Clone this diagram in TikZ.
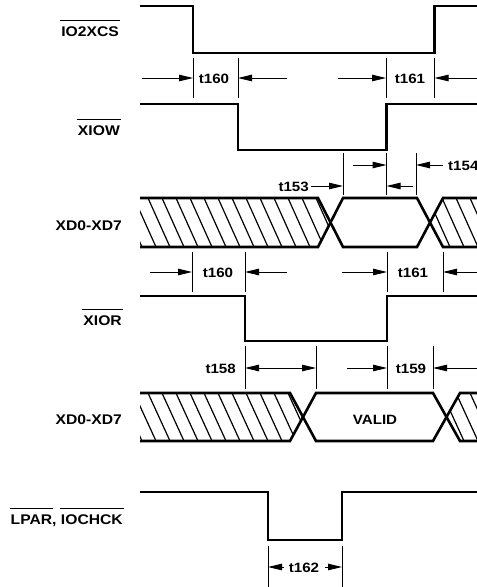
\documentclass[tikz,border=0pt]{standalone}
\usepackage{fontspec}
\setmainfont{Liberation Sans}[FakeStretch=1.12]
\usetikzlibrary{arrows.meta}
\newcommand\ovl[1]{\setbox0\hbox{#1}\rlap{\kern-1pt\rule[14.8pt]{\dimexpr\wd0+2pt\relax}{1.2pt}}\box0}
\begin{document}
\begin{tikzpicture}[x=1pt,y=-1pt,
  sig/.style={line width=2.6pt, line join=miter},
  dim/.style={line width=1pt},
  arr/.style={dim,-{Triangle[length=14pt,width=6.5pt]}},
  dblarr/.style={dim,{Triangle[length=14pt,width=6.5pt]}-{Triangle[length=14pt,width=6.5pt]}},
  hatch/.style={line width=1.2pt},
  lab/.style={font=\fontsize{14}{16}\selectfont\bfseries, inner sep=0pt, anchor=base east},
  tlab/.style={font=\fontsize{13.5}{16}\selectfont\bfseries, inner sep=0pt, anchor=base}]
\useasboundingbox (0,0) rectangle (477,587);

% ---------- labels ----------
\node[lab] (l1) at (119,36) {\ovl{IO2XCS}};
\node[lab] (l2) at (120,135) {\ovl{XIOW}};
\node[lab] (l3) at (122,230) {XD0-XD7};
\node[lab] (l4) at (122,325) {\ovl{XIOR}};
\node[lab] (l5) at (122,424) {XD0-XD7};
\node[lab] (l6) at (123,524) {\ovl{LPAR}, \ovl{IOCHCK}};

% ---------- signals ----------
\draw[sig] (140,6) -- (193,6) -- (193,53) -- (434.5,53) -- (434.5,6) -- (482,6);
\draw[sig] (140,104) -- (238,104) -- (238,150) -- (386.5,150) -- (386.5,104) -- (482,104);
\draw[sig] (140,296) -- (245,296) -- (245,341) -- (387,341) -- (387,296) -- (482,296);
\draw[sig] (140,492) -- (268,492) -- (268,540) -- (342,540) -- (342,492) -- (482,492);

% ---------- bus 1 ----------
\begin{scope}
\clip (140,198) -- (318,198) -- (330.5,222.5) -- (318,247) -- (140,247) -- cycle;
\foreach \i in {-3,...,14} \draw[hatch] ({134+14*\i},198) -- ++(22,49);
\end{scope}
\begin{scope}
\clip (443,198) -- (482,198) -- (482,247) -- (443,247) -- (430,222.5) -- cycle;
\foreach \i in {18,...,26} \draw[hatch] ({134+14*\i},198) -- ++(22,49);
\end{scope}
\draw[sig] (140,198) -- (318,198) -- (343,247) -- (417,247) -- (443,198) -- (482,198);
\draw[sig] (140,247) -- (318,247) -- (343,198) -- (417,198) -- (443,247) -- (482,247);

% ---------- bus 2 ----------
\begin{scope}
\clip (140,393) -- (290,393) -- (303,417) -- (290,441) -- (140,441) -- cycle;
\foreach \i in {-3,...,12} \draw[hatch] ({134+14*\i},393) -- ++(22,48);
\end{scope}
\begin{scope}
\clip (460,393) -- (482,393) -- (482,441) -- (460,441) -- (447,417) -- cycle;
\foreach \i in {20,...,26} \draw[hatch] ({134+14*\i},393) -- ++(22,48);
\end{scope}
\draw[sig] (140,393) -- (290,393) -- (316,441) -- (433,441) -- (460,393) -- (482,393);
\draw[sig] (140,441) -- (290,441) -- (316,393) -- (433,393) -- (460,441) -- (482,441);
\node[tlab] (valid) at (375,424) {VALID};

% ---------- row t160 / t161 (write) ----------
\foreach \x in {193,238,386,434.5} \draw[dim] (\x,58) -- (\x,98);
\draw[arr] (142,78) -- (193,78);
\node[tlab] (t160a) at (214,83) {t160};
\draw[arr] (287,78) -- (238,78);
\draw[arr] (338,78) -- (386,78);
\node[tlab] (t161a) at (410,83) {t161};
\draw[arr] (482,78) -- (434.5,78);

% ---------- row t153 / t154 ----------
\foreach \x in {343,386.5,416} \draw[dim] (\x,153) -- (\x,195);
\draw[arr] (353,165) -- (386.5,165);
\draw[arr] (443,165) -- (416,165);
\node[tlab, anchor=base west] (t154) at (448,170) {t154};
\draw[arr] (413,186) -- (386.5,186);
\node[tlab, anchor=base east] (t153) at (309,191) {t153};
\draw[arr] (311,186) -- (343,186);

% ---------- row t160 / t161 (read) ----------
\foreach \x in {192,245,387,443} \draw[dim] (\x,252) -- (\x,292);
\draw[arr] (150,272) -- (192,272);
\node[tlab] (t160b) at (218,277) {t160};
\draw[arr] (287,272) -- (245,272);
\draw[arr] (342,272) -- (387,272);
\node[tlab] (t161b) at (413,277) {t161};
\draw[arr] (482,272) -- (443,272);

% ---------- row t158 / t159 ----------
\foreach \x in {245,316,387,433} \draw[dim] (\x,346) -- (\x,389);
\node[tlab, anchor=base east] (t158) at (236,373) {t158};
\draw[dblarr] (245,368) -- (316,368);
\draw[arr] (347,368) -- (387,368);
\node[tlab] (t159) at (411,373) {t159};
\draw[arr] (482,368) -- (433,368);

% ---------- row t162 ----------
\foreach \x in {268,342} \draw[dim] (\x,546) -- (\x,590);
\draw[arr] (284,567) -- (268,567);
\node[tlab] (t162) at (304,572) {t162};
\draw[arr] (325,567) -- (342,567);
\end{tikzpicture}
\end{document}
